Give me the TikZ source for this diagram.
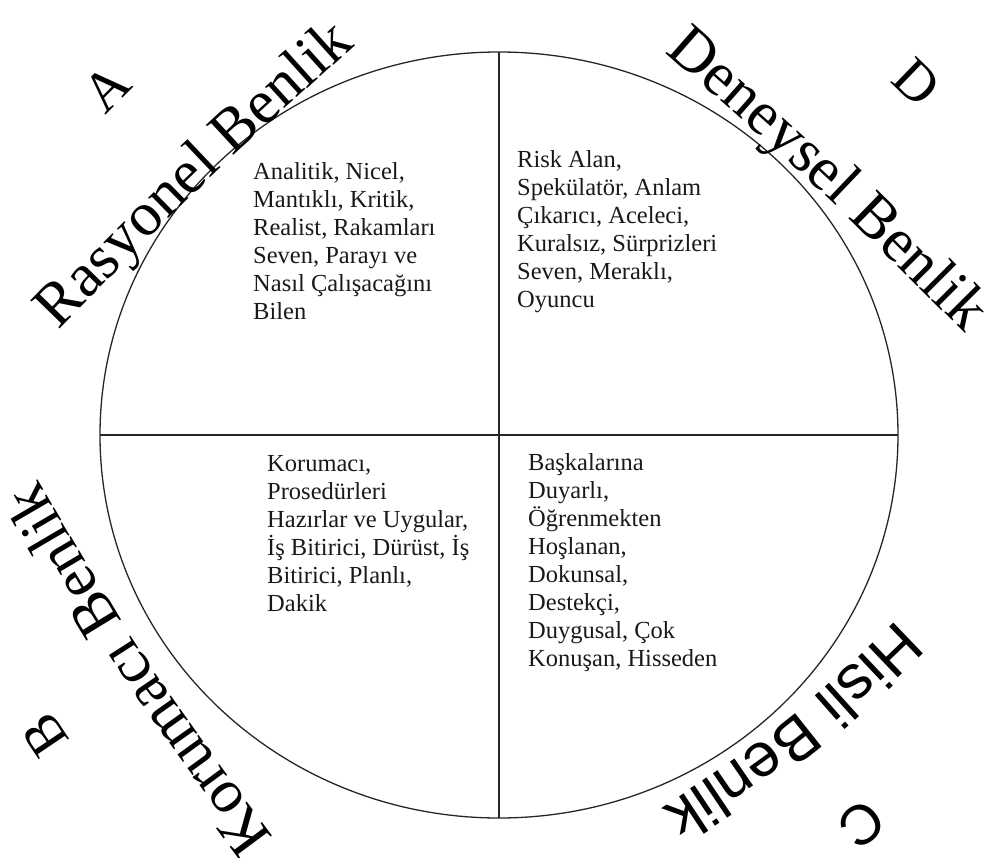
\documentclass[tikz,border=0pt]{standalone}
\usepackage{fontspec}
\setmainfont{Liberation Serif}
\newfontfamily\arialfont{Liberation Sans}
\usepackage{tikz}
\usetikzlibrary{decorations.text}

\newcommand{\labelsize}{\fontsize{62}{62}\selectfont}
\newcommand{\lettersize}{\fontsize{56}{56}\selectfont}
\newcommand{\listsize}{\fontsize{24.5}{28}\selectfont}

\begin{document}
\begin{tikzpicture}[x=1pt,y=1pt]
\tikzstyle{trait} = [
	anchor=north west,
	align=left,
	inner sep=0pt,
	font=\listsize, %text inside each quarter
	text=black!90
];
\tikzstyle{corner} = [
	inner sep=0pt,
	font=\lettersize
];
\tikzstyle{arctext} = [
	decorate,
	decoration={text along path, text align=center}
];
\useasboundingbox (-499,-422) rectangle (499,435);

\coordinate (O) at (0,0);

%circle and the two axes
\draw[line width=1.3pt, color=black!85] (O) ellipse [x radius=399, y radius=383];
\draw[line width=1.3pt, color=black!85]
	(0,383) -- (0,-383)
	(-399,0) -- (399,0)
;

%the four lists
\node[trait](Ra) at (-246,273) {Analitik, Nicel,\\Mantıklı, Kritik,\\Realist, Rakamları\\Seven, Parayı ve\\Nasıl Çalışacağını\\Bilen};
\node[trait](De) at (18,285) {Risk Alan,\\Spekülatör, Anlam\\Çıkarıcı, Aceleci,\\Kuralsız, Sürprizleri\\Seven, Meraklı,\\Oyuncu};
\node[trait](Ko) at (-232,-20) {Korumacı,\\Prosedürleri\\Hazırlar ve Uygular,\\İş Bitirici, Dürüst, İş\\Bitirici, Planlı,\\Dakik};
\node[trait](Hi) at (29,-18) {Başkalarına\\Duyarlı,\\Öğrenmekten\\Hoşlanan,\\Dokunsal,\\Destekçi,\\Duygusal, Çok\\Konuşan, Hisseden};

%titles bent round the circle
\path[arctext, decoration={text={|\labelsize|Rasyonel Benlik}}]
	(-470,74) .. controls (-297,252) .. (-112,418);
\path[arctext, decoration={text={|\labelsize|Deneysel Benlik}}]
	(136,409) .. controls (321,247) .. (494,73);
\path[arctext, decoration={text={|\labelsize\arialfont|Hisli Benlik}}]
	(430,-154) .. controls (289,-290) .. (126,-397);
\path[arctext, decoration={text={|\labelsize|Korumacı Benlik}}]
	(-199,-437) .. controls (-353,-230) .. (-483,-7);

%letters
\node[corner, rotate=45](A) at (-392,347) {A};
\node[corner, rotate=-44](D) at (418,353) {D};
\node[corner, rotate=124](B) at (-454,-300) {B};
\node[corner, rotate=-141, font=\lettersize\arialfont](C) at (363,-389) {C};

\end{tikzpicture}
\end{document}
